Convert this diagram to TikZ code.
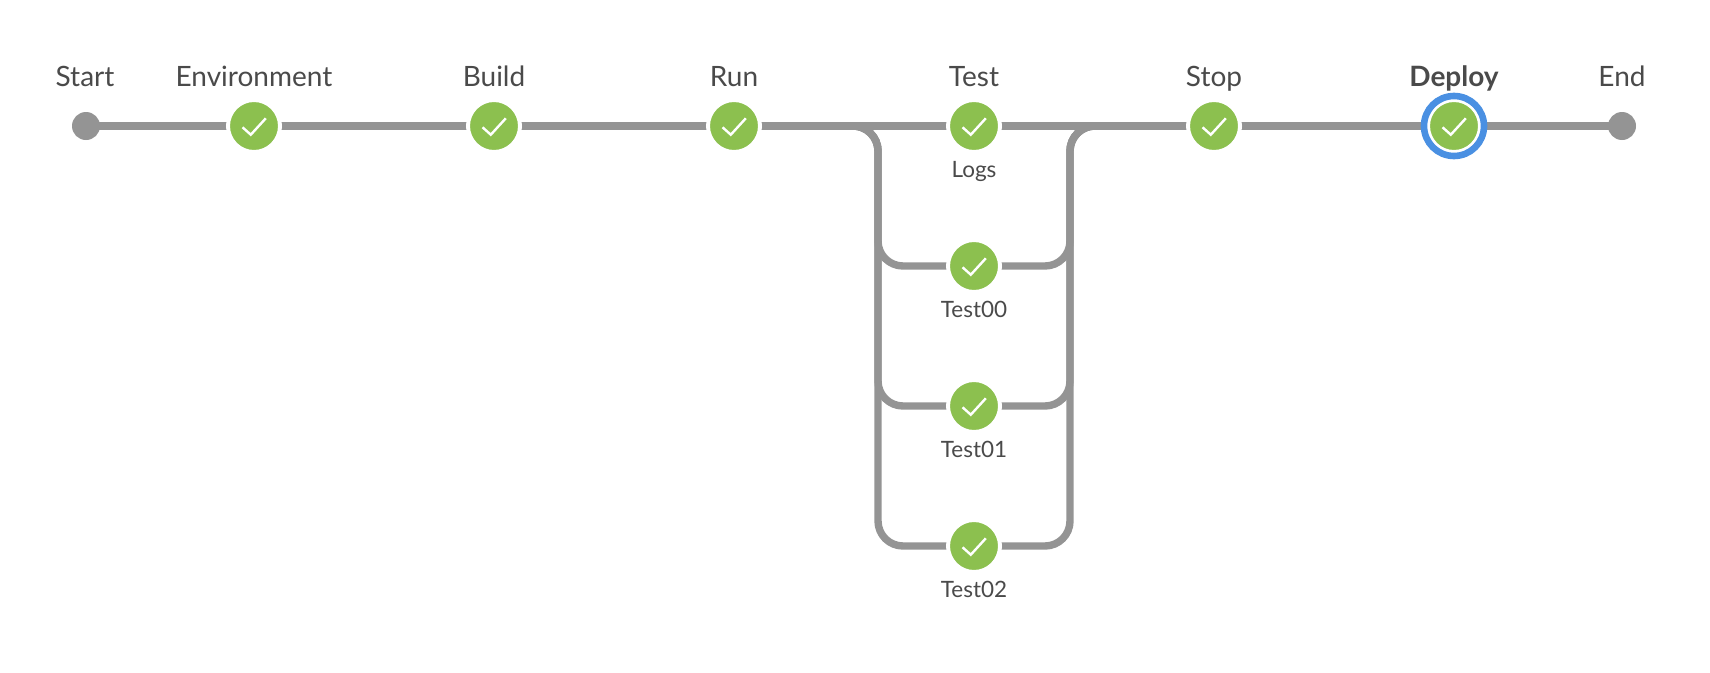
\documentclass[tikz,border=0pt]{standalone}
\usepackage{fontspec}
\setmainfont{Lato}
\tikzset{
  conn/.style={draw=linegray,line width=7.4pt,line join=round},
  branch/.style={conn,rounded corners=25pt},
  endpoint/.style={circle,fill=linegray,minimum size=28pt,inner sep=0pt,outer sep=0pt},
  stage/.style={circle,fill=okgreen,draw=white,line width=4pt,minimum size=52pt,inner sep=0pt,outer sep=0pt,
    path picture={\draw[white,line width=2.4pt,line join=miter]
      ([shift={(-11.5pt,-1.3pt)}]path picture bounding box.center) -- ++(8.3pt,-7.4pt) -- ++(15pt,16.4pt);}},
  toplabel/.style={anchor=base,text=labelgray,font=\fontsize{28}{32}\selectfont},
  sublabel/.style={anchor=base,text=labelgray,font=\fontsize{22.5}{26}\selectfont},
  ring/.style={circle,draw=ringblue,line width=6.6pt,minimum size=60pt,inner sep=0pt,outer sep=0pt,fill=white},
}
\definecolor{linegray}{HTML}{949494}
\definecolor{okgreen}{HTML}{8CC04F}
\definecolor{labelgray}{HTML}{4A4A4A}
\definecolor{ringblue}{HTML}{4A90E2}
\begin{document}
\begin{tikzpicture}[x=1pt,y=-1pt]
\useasboundingbox (0,0) rectangle (1710,672);
% connector anchors
\coordinate (jl) at (878,126);
\coordinate (jr) at (1070,126);
\coordinate (nstart) at (86,126);
\coordinate (nenv) at (254,126);
\coordinate (nbuild) at (494,126);
\coordinate (nrun) at (734,126);
\coordinate (ntest) at (974,126);
\coordinate (nt0) at (974,266);
\coordinate (nt1) at (974,406);
\coordinate (nt2) at (974,546);
\coordinate (nstop) at (1214,126);
\coordinate (ndeploy) at (1454,126);
\coordinate (nend) at (1622,126);
% connectors
\draw[conn] (nstart) -- (nenv);
\draw[conn] (nenv) -- (nbuild);
\draw[conn] (nbuild) -- (nrun);
\draw[conn] (nrun) -- (ntest);
\draw[conn] (ntest) -- (nstop);
\draw[conn] (nstop) -- (ndeploy);
\draw[conn] (ndeploy) -- (nend);
\foreach \t in {nt0,nt1,nt2}{
  \draw[branch] (nrun) -- (jl) -- (jl |- \t) -- (\t);
  \draw[branch] (\t) -- (jr |- \t) -- (jr) -- (nstop);
}
% nodes
\node[endpoint] (start) at (nstart) {};
\node[stage] (env) at (nenv) {};
\node[stage] (build) at (nbuild) {};
\node[stage] (run) at (nrun) {};
\node[stage] (test) at (ntest) {};
\node[stage] (t0) at (nt0) {};
\node[stage] (t1) at (nt1) {};
\node[stage] (t2) at (nt2) {};
\node[stage] (stop) at (nstop) {};
\node[ring] (deployring) at (ndeploy) {};
\node[stage,line width=2pt,minimum size=50pt] (deploy) at (ndeploy) {};
\node[endpoint] (end) at (nend) {};
% labels
\node[toplabel] (lstart) at (85,86) {Start};
\node[toplabel] (lenv) at (254,86) {Environment};
\node[toplabel] (lbuild) at (494,86) {Build};
\node[toplabel] (lrun) at (734,86) {Run};
\node[toplabel] (ltest) at (974,86) {Test};
\node[toplabel] (lstop) at (1214,86) {Stop};
\node[toplabel,font=\fontsize{28}{32}\selectfont\bfseries] (ldeploy) at (1454,86) {Deploy};
\node[toplabel] (lend) at (1622,86) {End};
\node[sublabel] (llogs) at (974,177) {Logs};
\node[sublabel] (l0) at (974,317) {Test00};
\node[sublabel] (l1) at (974,457) {Test01};
\node[sublabel] (l2) at (974,597) {Test02};
\end{tikzpicture}
\end{document}
